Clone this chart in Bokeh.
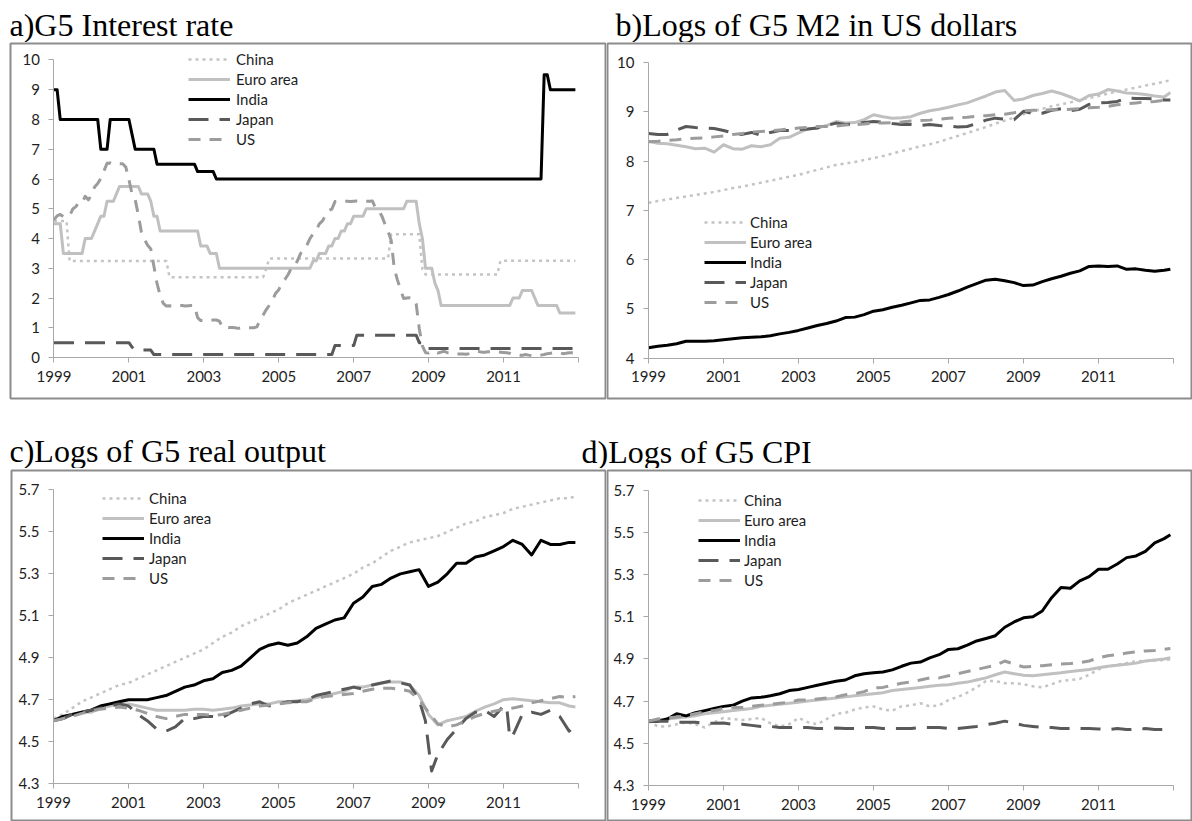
from bokeh.plotting import figure
from bokeh.models import Range1d, FixedTicker, Legend, LegendItem, Label
from bokeh.layouts import column, row
from bokeh.embed import file_html
from bokeh.resources import INLINE

# ---------------- categories (monthly dates, Jan 1999 .. Dec 2012) ----------------
START_YEAR = 1999
N_MONTHS = 168
MONTHS = list(range(N_MONTHS))                       # every month
Q_MONTHS = list(range(0, N_MONTHS, 3)) + [N_MONTHS - 1]  # quarterly readings + last month

SERIES = ["China", "Euro area", "India", "Japan", "US"]
X_TICKS = [1999, 2001, 2003, 2005, 2007, 2009, 2011, 2013]
X_TICK_LABELS = {2013: ""}

TITLES = ["a)G5 Interest rate", "b)Logs of G5 M2 in US dollars",
          "c)Logs of G5 real output", "d)Logs of G5 CPI"]

# ---------------- a) interest rates (monthly) ----------------
CHINA_RATE = [
    4.59, 4.59, 4.59, 4.59, 4.59, 3.24, 3.24, 3.24, 3.24, 3.24, 3.24, 3.24,
    3.24, 3.24, 3.24, 3.24, 3.24, 3.24, 3.24, 3.24, 3.24, 3.24, 3.24, 3.24,
    3.24, 3.24, 3.24, 3.24, 3.24, 3.24, 3.24, 3.24, 3.24, 3.24, 3.24, 3.24,
    3.24, 2.70, 2.70, 2.70, 2.70, 2.70, 2.70, 2.70, 2.70, 2.70, 2.70, 2.70,
    2.70, 2.70, 2.70, 2.70, 2.70, 2.70, 2.70, 2.70, 2.70, 2.70, 2.70, 2.70,
    2.70, 2.70, 2.70, 2.70, 2.70, 2.70, 2.70, 2.70, 3.00, 3.33, 3.33, 3.33,
    3.33, 3.33, 3.33, 3.33, 3.33, 3.33, 3.33, 3.33, 3.33, 3.33, 3.33, 3.33,
    3.33, 3.33, 3.33, 3.33, 3.33, 3.33, 3.33, 3.33, 3.33, 3.33, 3.33, 3.33,
    3.33, 3.33, 3.33, 3.33, 3.33, 3.33, 3.33, 3.33, 3.33, 3.33, 3.33, 3.33,
    4.14, 4.14, 4.14, 4.14, 4.14, 4.14, 4.14, 4.14, 4.14, 4.14, 2.97, 2.79,
    2.79, 2.79, 2.79, 2.79, 2.79, 2.79, 2.79, 2.79, 2.79, 2.79, 2.79, 2.79,
    2.79, 2.79, 2.79, 2.79, 2.79, 2.79, 2.79, 2.79, 2.79, 2.79, 2.79, 3.25,
    3.25, 3.25, 3.25, 3.25, 3.25, 3.25, 3.25, 3.25, 3.25, 3.25, 3.25, 3.25,
    3.25, 3.25, 3.25, 3.25, 3.25, 3.25, 3.25, 3.25, 3.25, 3.25, 3.25, 3.25,
]
EURO_RATE = [
    4.50, 4.50, 4.50, 3.50, 3.50, 3.50, 3.50, 3.50, 3.50, 3.50, 4.00, 4.00,
    4.00, 4.25, 4.50, 4.75, 4.75, 5.25, 5.25, 5.25, 5.50, 5.75, 5.75, 5.75,
    5.75, 5.75, 5.75, 5.75, 5.50, 5.50, 5.50, 5.25, 4.75, 4.75, 4.25, 4.25,
    4.25, 4.25, 4.25, 4.25, 4.25, 4.25, 4.25, 4.25, 4.25, 4.25, 4.25, 3.75,
    3.75, 3.75, 3.50, 3.50, 3.50, 3.00, 3.00, 3.00, 3.00, 3.00, 3.00, 3.00,
    3.00, 3.00, 3.00, 3.00, 3.00, 3.00, 3.00, 3.00, 3.00, 3.00, 3.00, 3.00,
    3.00, 3.00, 3.00, 3.00, 3.00, 3.00, 3.00, 3.00, 3.00, 3.00, 3.00, 3.25,
    3.25, 3.50, 3.50, 3.50, 3.75, 3.75, 4.00, 4.00, 4.25, 4.25, 4.50, 4.50,
    4.75, 4.75, 4.75, 4.75, 5.00, 5.00, 5.00, 5.00, 5.00, 5.00, 5.00, 5.00,
    5.00, 5.00, 5.00, 5.00, 5.00, 5.25, 5.25, 5.25, 5.25, 4.50, 4.00, 3.00,
    3.00, 3.00, 2.50, 2.25, 1.75, 1.75, 1.75, 1.75, 1.75, 1.75, 1.75, 1.75,
    1.75, 1.75, 1.75, 1.75, 1.75, 1.75, 1.75, 1.75, 1.75, 1.75, 1.75, 1.75,
    1.75, 1.75, 1.75, 2.00, 2.00, 2.00, 2.25, 2.25, 2.25, 2.25, 2.00, 1.75,
    1.75, 1.75, 1.75, 1.75, 1.75, 1.75, 1.50, 1.50, 1.50, 1.50, 1.50, 1.50,
]
INDIA_RATE = [
    9.00, 9.00, 8.00, 8.00, 8.00, 8.00, 8.00, 8.00, 8.00, 8.00, 8.00, 8.00,
    8.00, 8.00, 8.00, 7.00, 7.00, 7.00, 8.00, 8.00, 8.00, 8.00, 8.00, 8.00,
    8.00, 7.50, 7.00, 7.00, 7.00, 7.00, 7.00, 7.00, 7.00, 6.50, 6.50, 6.50,
    6.50, 6.50, 6.50, 6.50, 6.50, 6.50, 6.50, 6.50, 6.50, 6.50, 6.25, 6.25,
    6.25, 6.25, 6.25, 6.25, 6.00, 6.00, 6.00, 6.00, 6.00, 6.00, 6.00, 6.00,
    6.00, 6.00, 6.00, 6.00, 6.00, 6.00, 6.00, 6.00, 6.00, 6.00, 6.00, 6.00,
    6.00, 6.00, 6.00, 6.00, 6.00, 6.00, 6.00, 6.00, 6.00, 6.00, 6.00, 6.00,
    6.00, 6.00, 6.00, 6.00, 6.00, 6.00, 6.00, 6.00, 6.00, 6.00, 6.00, 6.00,
    6.00, 6.00, 6.00, 6.00, 6.00, 6.00, 6.00, 6.00, 6.00, 6.00, 6.00, 6.00,
    6.00, 6.00, 6.00, 6.00, 6.00, 6.00, 6.00, 6.00, 6.00, 6.00, 6.00, 6.00,
    6.00, 6.00, 6.00, 6.00, 6.00, 6.00, 6.00, 6.00, 6.00, 6.00, 6.00, 6.00,
    6.00, 6.00, 6.00, 6.00, 6.00, 6.00, 6.00, 6.00, 6.00, 6.00, 6.00, 6.00,
    6.00, 6.00, 6.00, 6.00, 6.00, 6.00, 6.00, 6.00, 6.00, 6.00, 6.00, 6.00,
    6.00, 9.50, 9.50, 9.00, 9.00, 9.00, 9.00, 9.00, 9.00, 9.00, 9.00, 9.00,
]
JAPAN_RATE = [
    0.50, 0.50, 0.50, 0.50, 0.50, 0.50, 0.50, 0.50, 0.50, 0.50, 0.50, 0.50,
    0.50, 0.50, 0.50, 0.50, 0.50, 0.50, 0.50, 0.50, 0.50, 0.50, 0.50, 0.50,
    0.50, 0.35, 0.25, 0.25, 0.25, 0.25, 0.25, 0.25, 0.10, 0.10, 0.10, 0.10,
    0.10, 0.10, 0.10, 0.10, 0.10, 0.10, 0.10, 0.10, 0.10, 0.10, 0.10, 0.10,
    0.10, 0.10, 0.10, 0.10, 0.10, 0.10, 0.10, 0.10, 0.10, 0.10, 0.10, 0.10,
    0.10, 0.10, 0.10, 0.10, 0.10, 0.10, 0.10, 0.10, 0.10, 0.10, 0.10, 0.10,
    0.10, 0.10, 0.10, 0.10, 0.10, 0.10, 0.10, 0.10, 0.10, 0.10, 0.10, 0.10,
    0.10, 0.10, 0.10, 0.10, 0.10, 0.10, 0.40, 0.40, 0.40, 0.40, 0.40, 0.40,
    0.40, 0.75, 0.75, 0.75, 0.75, 0.75, 0.75, 0.75, 0.75, 0.75, 0.75, 0.75,
    0.75, 0.75, 0.75, 0.75, 0.75, 0.75, 0.75, 0.75, 0.75, 0.50, 0.50, 0.30,
    0.30, 0.30, 0.30, 0.30, 0.30, 0.30, 0.30, 0.30, 0.30, 0.30, 0.30, 0.30,
    0.30, 0.30, 0.30, 0.30, 0.30, 0.30, 0.30, 0.30, 0.30, 0.30, 0.30, 0.30,
    0.30, 0.30, 0.30, 0.30, 0.30, 0.30, 0.30, 0.30, 0.30, 0.30, 0.30, 0.30,
    0.30, 0.30, 0.30, 0.30, 0.30, 0.30, 0.30, 0.30, 0.30, 0.30, 0.30, 0.30,
]
US_RATE = [
    4.63, 4.76, 4.81, 4.74, 4.74, 4.76, 4.99, 5.07, 5.22, 5.20, 5.42, 5.30,
    5.45, 5.73, 5.85, 6.02, 6.27, 6.53, 6.54, 6.50, 6.52, 6.51, 6.51, 6.40,
    5.98, 5.49, 5.31, 4.80, 4.21, 3.97, 3.77, 3.65, 3.07, 2.49, 2.09, 1.82,
    1.73, 1.74, 1.73, 1.75, 1.75, 1.75, 1.73, 1.74, 1.75, 1.75, 1.34, 1.24,
    1.24, 1.26, 1.25, 1.26, 1.26, 1.22, 1.01, 1.03, 1.01, 1.01, 1.00, 0.98,
    1.00, 1.01, 1.00, 1.00, 1.00, 1.03, 1.26, 1.43, 1.61, 1.76, 1.93, 2.16,
    2.28, 2.50, 2.63, 2.79, 3.00, 3.04, 3.26, 3.50, 3.62, 3.78, 4.00, 4.16,
    4.29, 4.49, 4.59, 4.79, 4.94, 4.99, 5.24, 5.25, 5.25, 5.25, 5.25, 5.24,
    5.25, 5.26, 5.26, 5.25, 5.25, 5.25, 5.26, 5.02, 4.94, 4.76, 4.49, 4.24,
    3.94, 2.98, 2.61, 2.28, 1.98, 2.00, 2.01, 2.00, 1.81, 0.97, 0.39, 0.16,
    0.15, 0.22, 0.18, 0.15, 0.18, 0.21, 0.16, 0.16, 0.15, 0.12, 0.12, 0.12,
    0.11, 0.13, 0.16, 0.20, 0.20, 0.18, 0.18, 0.19, 0.19, 0.19, 0.19, 0.18,
    0.17, 0.16, 0.14, 0.10, 0.09, 0.09, 0.07, 0.10, 0.08, 0.07, 0.08, 0.07,
    0.08, 0.10, 0.13, 0.14, 0.16, 0.16, 0.16, 0.13, 0.14, 0.16, 0.16, 0.16,
]

# ---------------- b) logs of M2 in US dollars (quarterly readings) ----------------
CHINA_M2 = [7.15, 7.19, 7.22, 7.25, 7.28, 7.31, 7.34, 7.37, 7.41, 7.45, 7.48, 7.52,
            7.56, 7.60, 7.64, 7.68, 7.72, 7.77, 7.82, 7.87, 7.92, 7.95, 7.98, 8.02,
            8.06, 8.10, 8.15, 8.20, 8.25, 8.30, 8.34, 8.39, 8.45, 8.51, 8.57, 8.63,
            8.69, 8.76, 8.82, 8.88, 8.95, 9.01, 9.06, 9.11, 9.15, 9.19, 9.24, 9.28,
            9.32, 9.37, 9.41, 9.45, 9.49, 9.53, 9.57, 9.61, 9.64]
EURO_M2 = [8.40, 8.36, 8.35, 8.32, 8.29, 8.25, 8.26, 8.18, 8.33, 8.25, 8.24, 8.31,
           8.29, 8.33, 8.46, 8.48, 8.57, 8.65, 8.67, 8.72, 8.80, 8.77, 8.78, 8.84,
           8.94, 8.90, 8.87, 8.88, 8.90, 8.97, 9.02, 9.05, 9.09, 9.14, 9.18, 9.25,
           9.32, 9.40, 9.43, 9.23, 9.26, 9.33, 9.37, 9.42, 9.37, 9.30, 9.22, 9.33,
           9.36, 9.45, 9.42, 9.38, 9.37, 9.35, 9.32, 9.30, 9.39]
INDIA_M2 = [4.21, 4.24, 4.26, 4.29, 4.34, 4.34, 4.34, 4.35, 4.37, 4.39, 4.41, 4.42,
            4.43, 4.45, 4.49, 4.52, 4.56, 4.61, 4.66, 4.70, 4.75, 4.82, 4.83, 4.88,
            4.95, 4.98, 5.03, 5.07, 5.12, 5.17, 5.18, 5.23, 5.29, 5.36, 5.44, 5.51,
            5.58, 5.60, 5.57, 5.53, 5.47, 5.48, 5.55, 5.61, 5.66, 5.72, 5.77, 5.86,
            5.87, 5.86, 5.87, 5.80, 5.81, 5.78, 5.76, 5.78, 5.80]
JAPAN_M2 = [8.56, 8.54, 8.54, 8.63, 8.70, 8.68, 8.67, 8.66, 8.62, 8.57, 8.54, 8.58,
            8.52, 8.58, 8.62, 8.62, 8.64, 8.65, 8.67, 8.72, 8.77, 8.74, 8.75, 8.78,
            8.80, 8.79, 8.76, 8.74, 8.74, 8.72, 8.74, 8.72, 8.71, 8.69, 8.70, 8.76,
            8.83, 8.87, 8.85, 8.84, 9.01, 8.96, 8.97, 9.03, 9.06, 9.02, 9.05, 9.15,
            9.18, 9.19, 9.21, 9.28, 9.27, 9.27, 9.26, 9.24, 9.24]
US_M2 = [8.39, 8.40, 8.42, 8.43, 8.45, 8.46, 8.47, 8.49, 8.51, 8.54, 8.56, 8.59,
         8.60, 8.61, 8.63, 8.65, 8.67, 8.68, 8.70, 8.70, 8.71, 8.73, 8.74, 8.75,
         8.77, 8.77, 8.78, 8.79, 8.81, 8.82, 8.83, 8.85, 8.87, 8.88, 8.89, 8.91,
         8.92, 8.94, 8.95, 8.98, 9.02, 9.03, 9.03, 9.04, 9.04, 9.05, 9.06, 9.08,
         9.09, 9.11, 9.14, 9.16, 9.18, 9.20, 9.21, 9.23, 9.25]

# ---------------- c) logs of real output (quarterly readings) ----------------
CHINA_Y = [4.61, 4.63, 4.66, 4.69, 4.71, 4.73, 4.75, 4.77, 4.78, 4.80, 4.82, 4.84,
           4.86, 4.88, 4.90, 4.92, 4.94, 4.97, 5.00, 5.02, 5.05, 5.07, 5.09, 5.11,
           5.13, 5.16, 5.18, 5.20, 5.22, 5.24, 5.26, 5.28, 5.30, 5.33, 5.35, 5.38,
           5.41, 5.43, 5.45, 5.46, 5.47, 5.48, 5.50, 5.52, 5.54, 5.55, 5.57, 5.58,
           5.59, 5.61, 5.62, 5.63, 5.64, 5.65, 5.66, 5.66, 5.67]
EURO_Y = [4.60, 4.61, 4.63, 4.64, 4.64, 4.66, 4.67, 4.68, 4.68, 4.67, 4.66, 4.65,
          4.65, 4.65, 4.65, 4.655, 4.655, 4.65, 4.655, 4.66, 4.67, 4.675, 4.68, 4.68,
          4.69, 4.69, 4.695, 4.70, 4.71, 4.72, 4.73, 4.74, 4.76, 4.76, 4.77, 4.78,
          4.785, 4.785, 4.77, 4.72, 4.63, 4.58, 4.60, 4.61, 4.62, 4.645, 4.665, 4.68,
          4.70, 4.705, 4.70, 4.695, 4.69, 4.685, 4.685, 4.67, 4.665]
INDIA_Y = [4.60, 4.62, 4.63, 4.64, 4.65, 4.67, 4.68, 4.69, 4.70, 4.70, 4.70, 4.71,
           4.72, 4.74, 4.76, 4.77, 4.79, 4.80, 4.83, 4.84, 4.86, 4.90, 4.94, 4.96,
           4.97, 4.96, 4.97, 5.00, 5.04, 5.06, 5.08, 5.09, 5.16, 5.19, 5.24, 5.25,
           5.28, 5.30, 5.31, 5.32, 5.24, 5.26, 5.30, 5.35, 5.35, 5.38, 5.39, 5.41,
           5.43, 5.46, 5.44, 5.39, 5.46, 5.44, 5.44, 5.45, 5.45]
JAPAN_Y_MONTHS = [0, 3, 6, 9, 12, 15, 18, 21, 24, 27, 30, 33, 36, 39, 42, 45,
                  48, 51, 54, 57, 60, 63, 66, 69, 72, 75, 78, 81, 84, 87, 90, 93,
                  96, 99, 102, 105, 108, 111, 114, 117, 119, 121, 123, 126, 129,
                  132, 135, 138, 141, 144, 145, 146, 147, 150, 153, 156, 159, 162,
                  165, 167]
JAPAN_Y = [4.60, 4.61, 4.63, 4.64, 4.65, 4.66, 4.67, 4.68, 4.67, 4.63, 4.60, 4.56,
           4.55, 4.57, 4.61, 4.61, 4.62, 4.62, 4.615, 4.64, 4.66, 4.68, 4.69, 4.67,
           4.68, 4.69, 4.69, 4.70, 4.72, 4.73, 4.74, 4.75, 4.76, 4.75, 4.77, 4.78,
           4.79, 4.78, 4.77, 4.70, 4.60, 4.36, 4.44, 4.51, 4.56,
           4.61, 4.64, 4.65, 4.62, 4.67, 4.67, 4.52, 4.53, 4.63, 4.64, 4.63, 4.65, 4.62,
           4.55, 4.575]
US_Y = [4.60, 4.61, 4.62, 4.635, 4.645, 4.655, 4.66, 4.665, 4.66, 4.65, 4.635, 4.62,
        4.61, 4.62, 4.63, 4.63, 4.63, 4.625, 4.63, 4.64, 4.65, 4.66, 4.67, 4.675,
        4.68, 4.685, 4.69, 4.69, 4.705, 4.715, 4.72, 4.725, 4.73, 4.74, 4.75, 4.755,
        4.755, 4.75, 4.74, 4.70, 4.64, 4.585, 4.57, 4.58, 4.60, 4.62, 4.635, 4.645,
        4.655, 4.66, 4.67, 4.685, 4.695, 4.705, 4.715, 4.71, 4.715]

# ---------------- d) logs of CPI (quarterly readings) ----------------
CHINA_P = [4.605, 4.58, 4.58, 4.59, 4.60, 4.59, 4.575, 4.60, 4.62, 4.615, 4.61, 4.615,
           4.62, 4.595, 4.58, 4.59, 4.62, 4.60, 4.59, 4.615, 4.64, 4.645, 4.66, 4.67,
           4.675, 4.66, 4.655, 4.675, 4.68, 4.69, 4.675, 4.68, 4.705, 4.72, 4.74, 4.765,
           4.795, 4.795, 4.785, 4.785, 4.78, 4.77, 4.765, 4.78, 4.795, 4.80, 4.805, 4.825,
           4.85, 4.865, 4.873, 4.88, 4.889, 4.89, 4.892, 4.895, 4.897]
EURO_P = [4.605, 4.61, 4.615, 4.62, 4.625, 4.63, 4.64, 4.645, 4.65, 4.655, 4.66, 4.665,
          4.675, 4.68, 4.685, 4.69, 4.695, 4.70, 4.705, 4.71, 4.715, 4.72, 4.725, 4.73,
          4.735, 4.74, 4.75, 4.755, 4.76, 4.765, 4.77, 4.775, 4.778, 4.785, 4.79, 4.80,
          4.81, 4.825, 4.838, 4.83, 4.823, 4.82, 4.825, 4.83, 4.834, 4.84, 4.845, 4.85,
          4.858, 4.865, 4.87, 4.875, 4.88, 4.89, 4.895, 4.90, 4.905]
INDIA_P = [4.605, 4.605, 4.615, 4.64, 4.63, 4.645, 4.655, 4.665, 4.675, 4.68, 4.70, 4.715,
           4.718, 4.725, 4.735, 4.75, 4.755, 4.765, 4.775, 4.785, 4.794, 4.80, 4.82, 4.83,
           4.834, 4.838, 4.848, 4.865, 4.88, 4.885, 4.905, 4.92, 4.945, 4.948, 4.965, 4.985,
           4.997, 5.01, 5.05, 5.075, 5.095, 5.10, 5.127, 5.19, 5.238, 5.235, 5.27, 5.29,
           5.325, 5.325, 5.35, 5.38, 5.388, 5.41, 5.45, 5.47, 5.488]
JAPAN_P = [4.605, 4.605, 4.605, 4.60, 4.60, 4.60, 4.595, 4.595, 4.596, 4.59, 4.59, 4.585,
           4.58, 4.58, 4.575, 4.575, 4.575, 4.575, 4.57, 4.57, 4.572, 4.57, 4.57, 4.575,
           4.575, 4.57, 4.57, 4.57, 4.57, 4.575, 4.575, 4.575, 4.57, 4.57, 4.575, 4.58,
           4.588, 4.595, 4.605, 4.595, 4.585, 4.58, 4.575, 4.575, 4.57, 4.57, 4.57, 4.57,
           4.568, 4.565, 4.57, 4.565, 4.565, 4.57, 4.565, 4.565, 4.564]
US_P = [4.605, 4.615, 4.62, 4.625, 4.63, 4.64, 4.65, 4.655, 4.665, 4.67, 4.67, 4.675,
        4.68, 4.685, 4.69, 4.695, 4.705, 4.705, 4.71, 4.715, 4.72, 4.73, 4.735, 4.745,
        4.762, 4.765, 4.775, 4.785, 4.79, 4.80, 4.81, 4.81, 4.82, 4.83, 4.84, 4.85,
        4.86, 4.87, 4.89, 4.875, 4.862, 4.865, 4.868, 4.872, 4.876, 4.878, 4.882, 4.89,
        4.905, 4.915, 4.92, 4.928, 4.933, 4.938, 4.94, 4.945, 4.949]

PANEL_A = {"China": (MONTHS, CHINA_RATE), "Euro area": (MONTHS, EURO_RATE),
           "India": (MONTHS, INDIA_RATE), "Japan": (MONTHS, JAPAN_RATE), "US": (MONTHS, US_RATE)}
PANEL_B = {"China": (Q_MONTHS, CHINA_M2), "Euro area": (Q_MONTHS, EURO_M2),
           "India": (Q_MONTHS, INDIA_M2), "Japan": (Q_MONTHS, JAPAN_M2), "US": (Q_MONTHS, US_M2)}
PANEL_C = {"China": (Q_MONTHS, CHINA_Y), "Euro area": (Q_MONTHS, EURO_Y),
           "India": (Q_MONTHS, INDIA_Y), "Japan": (JAPAN_Y_MONTHS, JAPAN_Y), "US": (Q_MONTHS, US_Y)}
PANEL_D = {"China": (Q_MONTHS, CHINA_P), "Euro area": (Q_MONTHS, EURO_P),
           "India": (Q_MONTHS, INDIA_P), "Japan": (Q_MONTHS, JAPAN_P), "US": (Q_MONTHS, US_P)}

A_YTICKS = [0, 1, 2, 3, 4, 5, 6, 7, 8, 9, 10]
B_YTICKS = [4, 5, 6, 7, 8, 9, 10]
CD_YTICKS = [4.3, 4.5, 4.7, 4.9, 5.1, 5.3, 5.5, 5.7]

# ---------------- styling ----------------
STYLE = {
    "China": dict(line_color="#c4c4c4", line_dash="3 4", line_width=2.5),
    "Euro area": dict(line_color="#c0c0c0", line_width=3),
    "India": dict(line_color="#000000", line_width=3),
    "Japan": dict(line_color="#595959", line_dash="20 11", line_width=3),
    "US": dict(line_color="#9c9c9c", line_dash="12 9", line_width=3),
}
SANS = "Lato"
SERIF = "Liberation Serif"
AXIS_COLOR = "#a8a8a8"
TEXT_COLOR = "#1e1e1e"


def to_years(months):
    return [START_YEAR + m / 12 for m in months]


def make_panel(width, height, xr, yr, yticks, mb, legend_loc, standoff, data):
    p = figure(width=width, height=height, x_range=Range1d(*xr), y_range=Range1d(*yr),
               toolbar_location=None, tools="", output_backend="svg")
    p.min_border_left, p.min_border_right, p.min_border_top, p.min_border_bottom = mb
    p.grid.visible = False
    p.outline_line_color = "#8c8c8c"
    p.outline_line_width = 2
    p.border_fill_color = "white"
    p.background_fill_color = "white"

    xa = p.xaxis[0]
    ya = p.yaxis[0]
    xa.fixed_location = yticks[0]
    ya.fixed_location = X_TICKS[0]
    xa.ticker = FixedTicker(ticks=X_TICKS)
    xa.major_label_overrides = X_TICK_LABELS
    xa.bounds = (X_TICKS[0], X_TICKS[-1])
    ya.ticker = FixedTicker(ticks=yticks)
    ya.bounds = (yticks[0], yticks[-1])
    for ax in (xa, ya):
        ax.axis_line_color = AXIS_COLOR
        ax.axis_line_width = 1
        ax.major_tick_line_color = AXIS_COLOR
        ax.major_tick_out = 5
        ax.major_tick_in = 0
        ax.minor_tick_line_color = None
        ax.major_label_text_font = SANS
        ax.major_label_text_font_size = "15px"
        ax.major_label_text_color = TEXT_COLOR
    xa.major_label_standoff = 8
    ya.major_label_standoff = 9

    items = []
    for name in SERIES:
        months, vals = data[name]
        r = p.line(to_years(months), vals, line_join="round", **STYLE[name])
        items.append(LegendItem(label=name, renderers=[r]))
    leg = Legend(items=items, location=legend_loc, orientation="vertical",
                 border_line_color=None, background_fill_alpha=0,
                 padding=0, spacing=0, margin=0,
                 glyph_width=42, glyph_height=20, label_height=20,
                 label_standoff=standoff,
                 label_text_font=SANS, label_text_font_size="15px",
                 label_text_color=TEXT_COLOR)
    p.add_layout(leg)
    return p


def make_strip(width, height, labels):
    s = figure(width=width, height=height, x_range=Range1d(0, width), y_range=Range1d(0, height),
               toolbar_location=None, tools="", output_backend="svg",
               x_axis_type=None, y_axis_type=None)
    s.min_border_left = s.min_border_right = s.min_border_top = s.min_border_bottom = 0
    s.outline_line_color = None
    for text, x, y in labels:
        s.add_layout(Label(x=x, y=y, text=text, text_font=SERIF, text_font_size="32px",
                           text_color="black", text_baseline="alphabetic"))
    return s


strip1 = make_strip(1192, 42, [(TITLES[0], 9, 18), (TITLES[1], 615, 18)])
strip2 = make_strip(1192, 68, [(TITLES[2], 9, 18), (TITLES[3], 581, 17)])

pa = make_panel(606, 358, (1997.8389, 2013.7208), (-1.378, 10.5546), A_YTICKS,
                (10, 1, 1, 2), (178, 249), 6, PANEL_A)
pb = make_panel(586, 358, (1997.9067, 2013.5067), (3.1777, 10.3858), B_YTICKS,
                (1, 0, 1, 2), (97, 86), 4, PANEL_B)
pc = make_panel(606, 353, (1997.88, 2013.72), (4.1194, 5.7927), CD_YTICKS,
                (11, 1, 1, 0), (91, 233), 5, PANEL_C)
pd = make_panel(586, 353, (1997.9067, 2013.5067), (4.1294, 5.7929), CD_YTICKS,
                (1, 0, 2, 0), (91, 231), 4, PANEL_D)

layout = column(strip1, row(pa, pb), strip2, row(pc, pd))

open("out.html", "w").write(file_html(layout, INLINE))
